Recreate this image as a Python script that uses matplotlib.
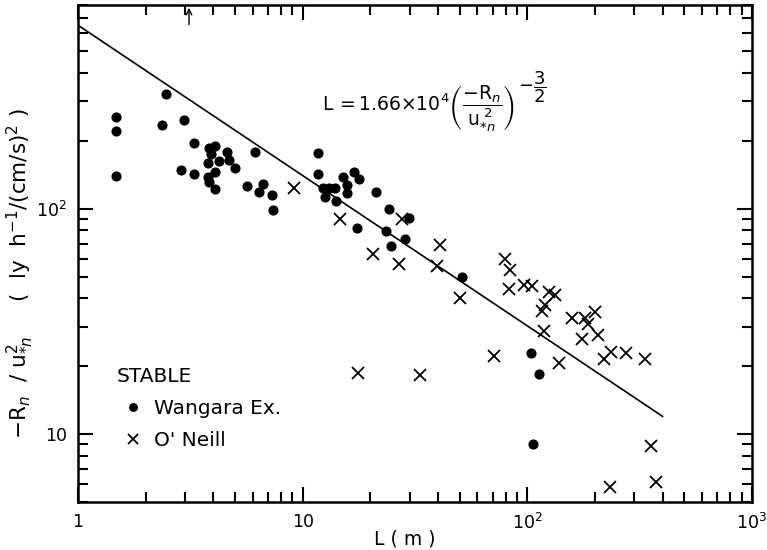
import numpy as np
import matplotlib
matplotlib.use("Agg")
import matplotlib.pyplot as plt
from matplotlib.ticker import LogLocator, FixedLocator, FixedFormatter, NullFormatter

# Wangara Ex. (stable) -- L (m) and -Rn/u*n^2
wangara_L = [1.48, 1.48, 1.48, 2.36, 2.46, 2.96, 3.28, 2.87, 3.28, 3.83,
             4.07, 3.91, 3.79, 4.24, 4.60, 4.70, 5.00, 4.07, 3.79, 3.83,
             4.07, 5.65, 6.13, 6.66, 6.39, 7.30, 7.38, 11.7, 11.7, 12.3,
             13.1, 13.9, 12.6, 14.1, 15.1, 15.7, 15.7, 16.9, 17.8, 21.2,
             24.2, 17.4, 29.7, 23.5, 24.7, 28.5, 51.2, 104, 113, 106]
wangara_R = [256, 222, 139, 234, 324, 246, 196, 149, 142, 185,
             189, 174, 159, 162, 179, 164, 151, 145, 138, 131,
             122, 126, 179, 129, 118, 115, 99, 176, 142, 124,
             124, 124, 113, 108, 138, 127, 117, 145, 135, 118,
             100, 81.8, 90.6, 79.4, 68.1, 73.5, 49.6, 22.9, 18.4, 9.06]

# O'Neill
oneill_L = [9.15, 14.7, 20.6, 26.8, 27.7, 40.8, 39.6, 50.4, 79.9, 83.7,
            82.8, 97.1, 105, 125, 133, 120, 116, 119, 158, 180,
            200, 187, 176, 206, 219, 236, 275, 335, 138, 71.0,
            17.7, 33.3, 357, 234, 374]
oneill_R = [123, 89.7, 62.8, 56.7, 89.7, 68.9, 55.8, 40.1, 59.9, 53.4,
            44.2, 46.0, 45.3, 42.7, 41.3, 37.5, 35.1, 28.6, 32.8, 32.6,
            34.9, 30.7, 26.5, 27.4, 21.6, 23.2, 22.9, 21.5, 20.6, 22.2,
            18.6, 18.3, 8.86, 5.85, 6.11]

# fitted relation L = 1.66e4 * (-Rn/u*n^2)^(-3/2)
fit_coef = 1.66e4
fit_L = np.array([1.0, 400.0])
fit_R = (fit_coef / fit_L) ** (2.0 / 3.0)

x_ticks = [1, 10, 100, 1000]
x_labels = ['1', '10', r'$10^2$', r'$10^3$']
y_ticks = [10, 100]
y_labels = ['10', r'$10^2$']

plt.rcParams['font.family'] = 'DejaVu Sans'
plt.rcParams['mathtext.fontset'] = 'dejavusans'

fig = plt.figure(figsize=(7.67, 5.5), dpi=100)
ax = fig.add_axes([0.1017, 0.0873, 0.8787, 0.9036])

ax.plot(fit_L, fit_R, color='black', lw=1.2)
ax.plot(wangara_L, wangara_R, 'o', color='black', ms=6.3, ls='none', label='Wangara Ex.')
ax.plot(oneill_L, oneill_R, 'x', color='black', ms=8, mew=1.3, ls='none', label="O' Neill")

ax.set_xscale('log')
ax.set_yscale('log')
ax.set_xlim(1, 1000)
ax.set_ylim(5, 800)

ax.xaxis.set_major_locator(FixedLocator(x_ticks))
ax.xaxis.set_major_formatter(FixedFormatter(x_labels))
ax.yaxis.set_major_locator(FixedLocator(y_ticks))
ax.yaxis.set_major_formatter(FixedFormatter(y_labels))
ax.xaxis.set_minor_locator(LogLocator(base=10, subs=np.arange(2, 10)))
ax.yaxis.set_minor_locator(LogLocator(base=10, subs=np.arange(2, 10)))
ax.xaxis.set_minor_formatter(NullFormatter())
ax.yaxis.set_minor_formatter(NullFormatter())

ax.tick_params(which='both', direction='in', top=True, right=True, width=1.5, labelsize=12.5)
ax.tick_params(which='major', length=11, pad=8)
ax.tick_params(which='minor', length=7)
for sp in ax.spines.values():
    sp.set_linewidth(1.8)

ax.set_xlabel('L ( m )', fontsize=13.5)
ax.xaxis.set_label_coords(0.485, -0.055)
ax.set_ylabel(r'$-\mathrm{R}_n\ \ /\ \mathrm{u}_{*n}^{2}\ \ \ \ \ (\ \ \mathrm{ly\ \ h^{-1}/(cm/s)^{2}}\ )$',
              fontsize=15.5)
ax.yaxis.set_label_coords(-0.063, 0.46)

ax.text(0.362, 0.79, r'$\mathrm{L}\,=1.66{\times}10^4\left(\dfrac{-\mathrm{R}_n}{\mathrm{u}_{*n}^{\ 2}}\right)$',
        transform=ax.transAxes, fontsize=13.5, va='center', ha='left')
ax.text(0.653, 0.835, r'$-\dfrac{3}{2}$', transform=ax.transAxes, fontsize=13,
        va='center', ha='left')

# arrow marker at the top axis
ax.annotate('', xy=(3.12, 1.0), xytext=(3.12, 0.955),
            xycoords=('data', 'axes fraction'), textcoords=('data', 'axes fraction'),
            arrowprops=dict(arrowstyle='->', color='black', lw=1.0))

leg = ax.legend(loc='lower left', bbox_to_anchor=(0.03, 0.068), frameon=False,
                title='STABLE', alignment='left', fontsize=14.5, title_fontsize=14.5,
                handletextpad=0.15, handlelength=1.7, labelspacing=0.65,
                markerscale=0.85)

fig.savefig('out.png', dpi=100)
